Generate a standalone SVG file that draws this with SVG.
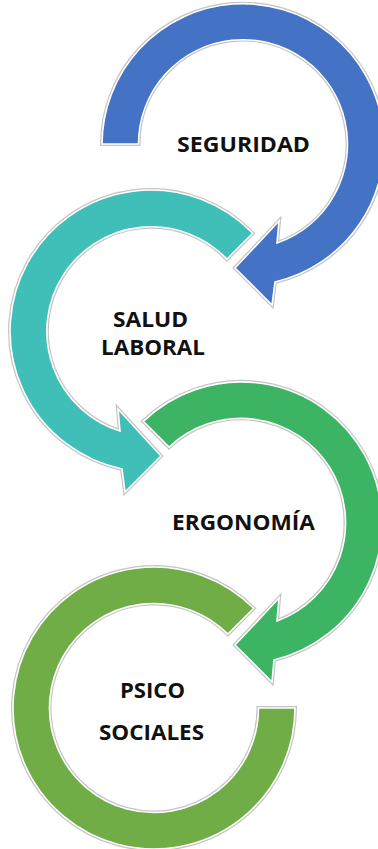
<svg xmlns="http://www.w3.org/2000/svg" xmlns:xlink="http://www.w3.org/1999/xlink" width="378" height="849" viewBox="0 0 378 849">
<style>
.halo{fill:none;stroke:#c4c4c4;stroke-width:4;stroke-linejoin:miter}
.body{stroke:#ffffff;stroke-width:1.6;stroke-linejoin:miter}
.lbl{font-family:"Open Sans","Liberation Sans",sans-serif;font-weight:700;font-size:21px;fill:#111111}
</style>
<defs>
<path id="p-blue" d="M 102,144 A 141,141 0 1,1 275,282 L 272,305 L 235,268 L 279,221 L 277,243 A 104.5,104.5 0 1,0 138.5,144 Z"/>
<path id="p-teal" d="M 252.7,233.3 A 141,141 0 1,0 122,469 L 125,492 L 161,456 L 118,409 L 120,431 A 104.5,104.5 0 1,1 226.9,259.1 Z"/>
<path id="p-green" d="M 143.3,421.3 A 141,141 0 1,1 274,660 L 272,682 L 235,645 L 279,598 L 277,621 A 104.5,104.5 0 1,0 169.1,447.1 Z"/>
<path id="p-olive" d="M 253.7,608.3 A 141,141 0 1,0 295,708 L 258.5,708 A 104.5,104.5 0 1,1 227.9,634.1 Z"/>
</defs>
<g id="node-psicosociales">
<use xlink:href="#p-olive" class="halo"/>
<use xlink:href="#p-olive" class="body" fill="#70AD47"/>
<text class="lbl" x="120" y="698" textLength="65" lengthAdjust="spacingAndGlyphs">PSICO</text>
<text class="lbl" x="99" y="740" textLength="105" lengthAdjust="spacingAndGlyphs">SOCIALES</text>
</g>
<g id="node-ergonomia">
<use xlink:href="#p-green" class="halo"/>
<use xlink:href="#p-green" class="body" fill="#3CB464"/>
<text class="lbl" x="172" y="530" textLength="143" lengthAdjust="spacingAndGlyphs">ERGONOMÍA</text>
</g>
<g id="node-salud-laboral">
<use xlink:href="#p-teal" class="halo"/>
<use xlink:href="#p-teal" class="body" fill="#3FBFB8"/>
<text class="lbl" x="113" y="327" textLength="75" lengthAdjust="spacingAndGlyphs">SALUD</text>
<text class="lbl" x="101" y="355" textLength="104" lengthAdjust="spacingAndGlyphs">LABORAL</text>
</g>
<g id="node-seguridad">
<use xlink:href="#p-blue" class="halo"/>
<use xlink:href="#p-blue" class="body" fill="#4472C4"/>
<text class="lbl" x="177" y="152" textLength="133" lengthAdjust="spacingAndGlyphs">SEGURIDAD</text>
</g>
<g id="connectors"></g>
</svg>
